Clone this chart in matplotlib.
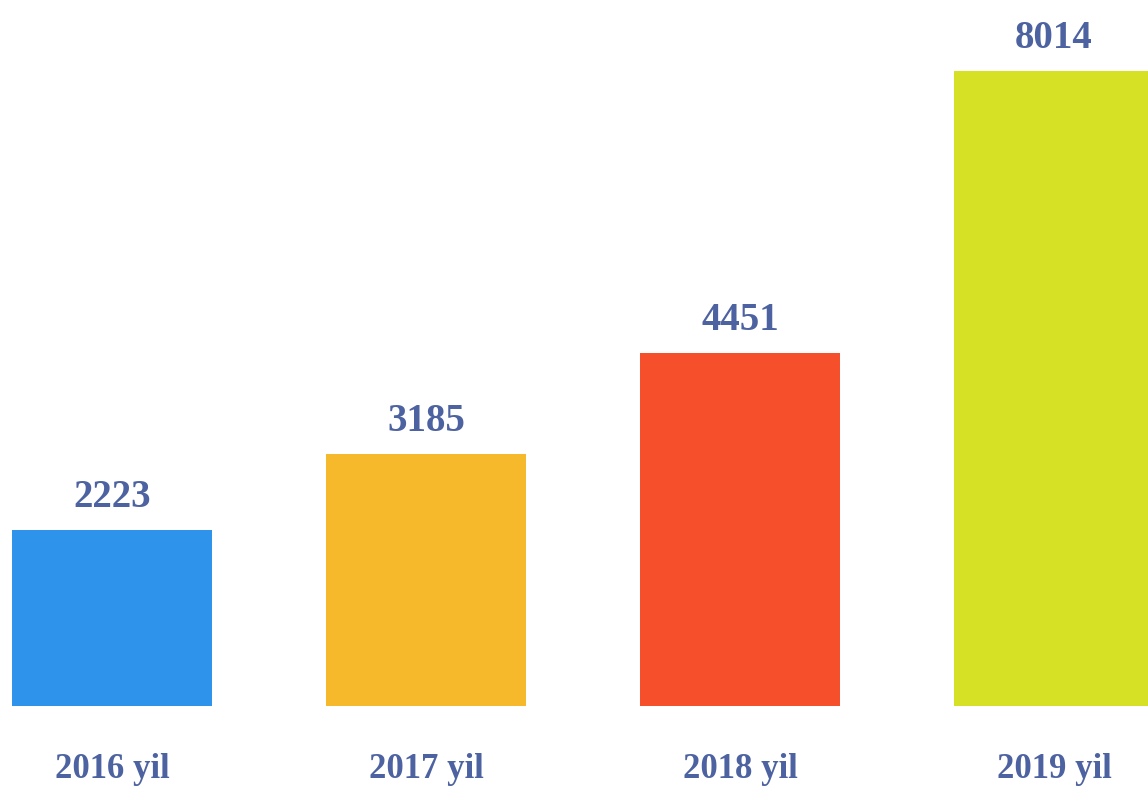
import matplotlib
matplotlib.use("Agg")
import matplotlib.pyplot as plt

YEARS = ["2016 yil", "2017 yil", "2018 yil", "2019 yil"]
VALUES = [2223, 3185, 4451, 8014]
COLORS = ["#2E93EA", "#F6B92C", "#F64F2C", "#D6E024"]
TEXT_COLOR = "#4D62A0"

fig = plt.figure(figsize=(11.48, 7.89), dpi=100)
ax = fig.add_axes([0, 83 / 789, 1, 706 / 789])

x = list(range(len(VALUES)))
ax.bar(x, VALUES, width=0.637, color=COLORS)
ax.set_xlim(-0.357, 3.299)
ax.set_ylim(0, 8910)

for xi, v in zip(x, VALUES):
    ax.annotate(str(v), (xi, v), xytext=(0, 14), textcoords="offset pixels",
                ha="center", va="bottom", fontsize=28, fontweight="bold",
                family="Liberation Serif", color=TEXT_COLOR)

for xi, lab in zip(x, YEARS):
    ax.annotate(lab, (xi, 0), xytext=(0, -80), textcoords="offset pixels",
                ha="center", va="bottom", fontsize=25, fontweight="bold",
                family="Liberation Serif", color=TEXT_COLOR)

ax.axis("off")
fig.savefig("out.png", dpi=100)
